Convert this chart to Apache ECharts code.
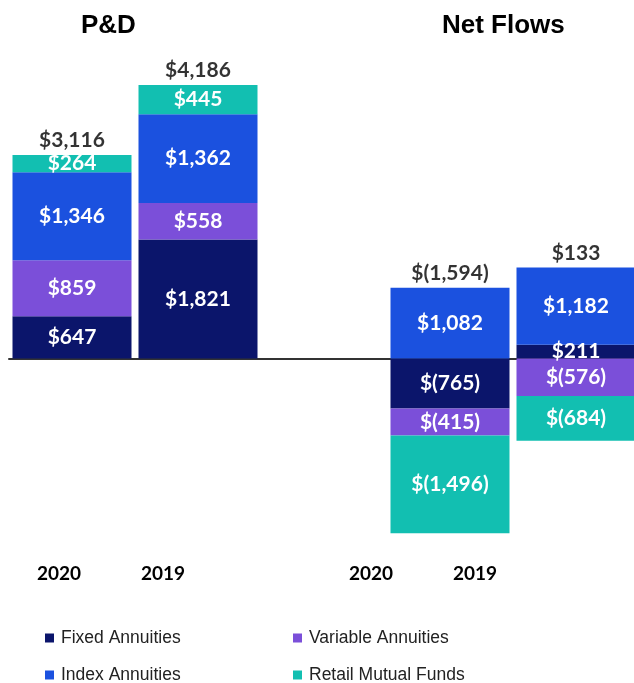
<!DOCTYPE html>
<html>
<head>
<meta charset="utf-8">
<script src="https://cdn.jsdelivr.net/npm/echarts@6/dist/echarts.min.js"></script>
<style>
  html, body { margin: 0; padding: 0; background: #fff; }
  #chart { width: 634px; height: 683px; }
</style>
</head>
<body>
<div id="chart"></div>
<script>
// 类别（中间空一格分隔两组）
const categories = ["P&D 2020", "P&D 2019", "", "Net 2020", "Net 2019"];
const yearLabels = ["2020", "2019", "", "2020", "2019"];
const groupTitles = ["P&D", "Net Flows"];
const seriesNames = ["Fixed Annuities", "Variable Annuities", "Index Annuities", "Retail Mutual Funds"];

const fixedAnnuities = [647, 1821, null, -765, 211];
const variableAnnuities = [859, 558, null, -415, -576];
const indexAnnuities = [1346, 1362, null, 1082, 1182];
const retailFunds = [264, 445, null, -1496, -684];
const totalLabels = ["$3,116", "$4,186", "", "$(1,594)", "$133"];

const fmt = (v) => {
  const s = Math.abs(v).toLocaleString("en-US");
  return v < 0 ? "$(" + s + ")" : "$" + s;
};

// 正值堆叠顶端，用于放总数标签
const allSeries = [fixedAnnuities, variableAnnuities, indexAnnuities, retailFunds];
const positiveTops = categories.map((c, i) => {
  if (allSeries[0][i] == null) return null;
  return allSeries.reduce((sum, arr) => sum + (arr[i] > 0 ? arr[i] : 0), 0);
});

const labelFont = {
  show: true,
  color: "#fff",
  fontFamily: "Lato",
  fontWeight: "bold",
  fontSize: 21,
  formatter: (p) => fmt(p.value),
};

const barSeries = (name, data, color) => ({
  name,
  type: "bar",
  stack: "all",
  data,
  barWidth: 119,
  itemStyle: { color },
  label: labelFont,
  emphasis: { disabled: true },
});

// 图例：每项单独放，两列两行
const legendItem = (name, left, top) => ({
  left,
  top,
  itemWidth: 9,
  itemHeight: 9,
  itemGap: 6,
  icon: "rect",
  selectedMode: false,
  data: [name],
  textStyle: { fontFamily: "Liberation Sans", fontSize: 17.5, color: "#222", padding: [0, 0, 0, 2] },
});

const chart = echarts.init(document.getElementById("chart"));

chart.setOption({
  animation: false,
  title: [
    {
      text: groupTitles[0],
      left: 76,
      top: 8,
      textStyle: { fontFamily: "Liberation Sans", fontWeight: "bold", fontSize: 26, color: "#000" },
    },
    {
      text: groupTitles[1],
      left: 437,
      top: 8,
      textStyle: { fontFamily: "Liberation Sans", fontWeight: "bold", fontSize: 26, color: "#000" },
    },
  ],
  grid: [
    { left: 9, width: 630, top: 64.6, height: 489.8, outerBoundsMode: "none" },
    { left: 7, width: 520, top: 555, height: 1, outerBoundsMode: "none" },
  ],
  legend: [
    legendItem(seriesNames[0], 40, 624),
    legendItem(seriesNames[2], 40, 661),
    legendItem(seriesNames[1], 288, 624),
    legendItem(seriesNames[3], 288, 661),
  ],
  xAxis: [
    {
      type: "category",
      gridIndex: 0,
      data: categories,
      axisLine: { onZero: true, lineStyle: { color: "#333", width: 2 } },
      axisTick: { show: false },
      axisLabel: { show: false },
    },
    {
      type: "category",
      gridIndex: 1,
      data: yearLabels,
      axisLine: { show: false },
      axisTick: { show: false },
      axisLabel: {
        margin: 8,
        color: "#000",
        fontFamily: "Lato",
        fontWeight: "bold",
        fontSize: 19,
        interval: 0,
      },
    },
  ],
  yAxis: [
    { type: "value", gridIndex: 0, min: -3000, max: 4500, show: false, splitLine: { show: false } },
    { type: "value", gridIndex: 1, show: false, splitLine: { show: false } },
  ],
  series: [
    barSeries(seriesNames[0], fixedAnnuities, "#0b156b"),
    barSeries(seriesNames[1], variableAnnuities, "#7b4fd9"),
    barSeries(seriesNames[2], indexAnnuities, "#1b51df"),
    barSeries(seriesNames[3], retailFunds, "#12bfb1"),
    {
      name: "Total",
      type: "scatter",
      data: positiveTops,
      symbolSize: 0,
      silent: true,
      label: {
        show: true,
        position: "top",
        distance: 4,
        color: "#000",
        fontFamily: "Lato",
        fontWeight: "bold",
        fontSize: 21,
        formatter: (p) => totalLabels[p.dataIndex],
      },
    },
  ],
});
</script>
</body>
</html>
